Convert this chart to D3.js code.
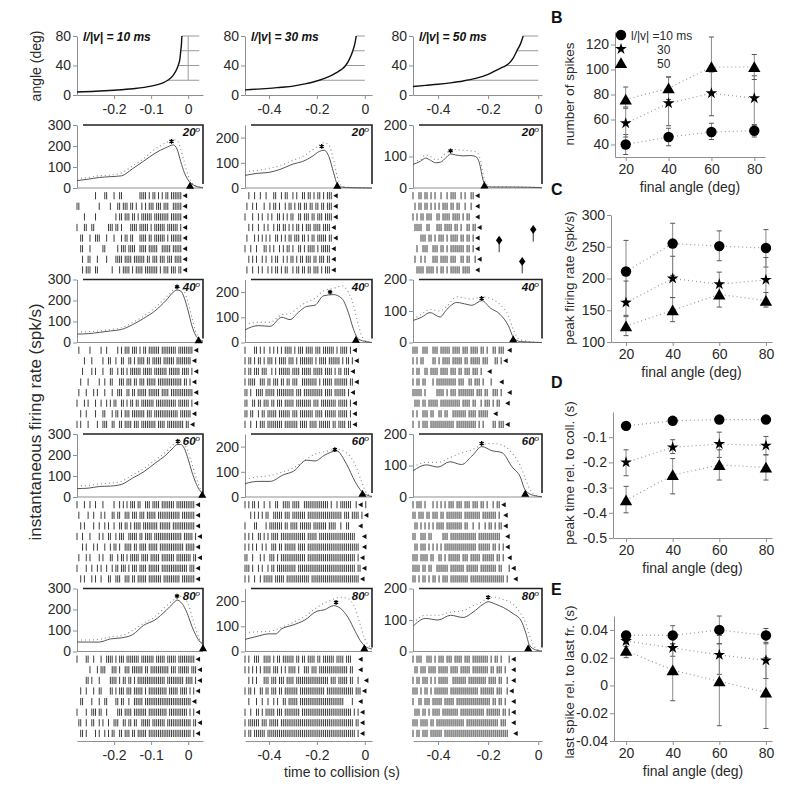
<!DOCTYPE html>
<html lang="en">
<head>
<meta charset="utf-8">
<title>Looming responses</title>
<script src="https://d3js.org/d3.v7.min.js"></script>
<style>
  body { margin: 0; background: #fff; }
  svg { font-family: "Liberation Sans", Arial, Helvetica, sans-serif; }
</style>
</head>
<body>
<script>
// ---------- panel A data ----------
const approachLabels = ["l/|v| = 10 ms", "l/|v| = 30 ms", "l/|v| = 50 ms"]
const finalAngles = [20, 40, 60, 80]
const timeDomains = [[-0.3, 0.04], [-0.5, 0.03], [-0.5, 0.015]]
const timeTicks = [[-0.2, -0.1, 0], [-0.4, -0.2, 0], [-0.4, -0.2, 0]]
const angleTicks = [0, 40, 80]
const rateDomains = [[0, 300], [0, 250], [0, 200]]
const rateTicks = [[0, 100, 200, 300], [0, 100, 200], [0, 100, 200]]

// stimulus angle vs time
const angle10 = [[-0.3,4],[-0.25,5],[-0.2,6.5],[-0.15,8.5],[-0.1,12],[-0.07,16],[-0.055,20],[-0.04,27],[-0.03,36],[-0.027,40],[-0.022,50],[-0.02,60],[-0.018,70],[-0.017,80]]
const angle30 = [[-0.5,7],[-0.45,8],[-0.4,9],[-0.35,10.5],[-0.3,12],[-0.25,15],[-0.19,20],[-0.15,25],[-0.12,30],[-0.1,34],[-0.08,40],[-0.065,48],[-0.05,60],[-0.04,72],[-0.036,80]]
const angle50 = [[-0.5,11.5],[-0.45,13],[-0.4,14.5],[-0.35,16.5],[-0.3,19],[-0.25,22.5],[-0.2,28],[-0.17,33],[-0.14,38],[-0.12,42],[-0.1,50],[-0.085,60],[-0.07,70],[-0.06,80]]
// [final angle, start, end] of the held angle
const hold10 = [[20,-0.055,0.03],[40,-0.027,0.03],[60,-0.02,0.03],[80,-0.017,0.03]]
const hold30 = [[20,-0.19,0],[40,-0.08,0],[60,-0.05,0],[80,-0.036,0]]
const hold50 = [[20,-0.29,0],[40,-0.13,0],[60,-0.085,0],[80,-0.06,0]]
const stimEnd10 = [0, 20, 80]

// firing rates [t, spk/s]: solid = mean, dotted = second estimate
const mean10_20 = [[-0.3,35],[-0.27,42],[-0.24,50],[-0.21,54],[-0.18,58],[-0.15,92],[-0.12,128],[-0.09,165],[-0.06,192],[-0.04,205],[-0.03,185],[-0.02,125],[-0.01,72],[0,38],[0.01,19],[0.02,9],[0.03,4],[0.04,2]]
const dot10_20 = [[-0.3,45],[-0.27,50],[-0.24,58],[-0.21,62],[-0.18,72],[-0.15,105],[-0.12,140],[-0.09,185],[-0.06,215],[-0.04,230],[-0.03,226],[-0.02,185],[-0.01,120],[0,60],[0.01,25],[0.02,10],[0.03,4],[0.04,2]]
const mean10_40 = [[-0.3,40],[-0.27,42],[-0.24,48],[-0.21,55],[-0.18,62],[-0.15,85],[-0.12,115],[-0.09,150],[-0.06,200],[-0.04,240],[-0.03,250],[-0.02,245],[-0.01,210],[0,150],[0.01,80],[0.02,35],[0.03,15],[0.04,5]]
const dot10_40 = [[-0.3,50],[-0.27,52],[-0.24,55],[-0.21,62],[-0.18,70],[-0.15,95],[-0.12,125],[-0.09,165],[-0.06,215],[-0.04,250],[-0.03,262],[-0.02,262],[-0.01,240],[0,190],[0.01,120],[0.02,55],[0.03,20],[0.04,8]]
const mean10_60 = [[-0.3,40],[-0.27,42],[-0.24,50],[-0.21,52],[-0.18,60],[-0.15,90],[-0.12,120],[-0.09,160],[-0.06,200],[-0.04,235],[-0.03,250],[-0.02,250],[-0.01,230],[0,180],[0.01,120],[0.02,70],[0.03,35],[0.04,15]]
const dot10_60 = [[-0.3,52],[-0.27,55],[-0.24,62],[-0.21,66],[-0.18,75],[-0.15,105],[-0.12,135],[-0.09,175],[-0.06,215],[-0.04,250],[-0.03,262],[-0.02,265],[-0.01,250],[0,215],[0.01,160],[0.02,100],[0.03,50],[0.04,20]]
const mean10_80 = [[-0.3,45],[-0.27,45],[-0.24,45],[-0.21,60],[-0.18,65],[-0.15,80],[-0.12,125],[-0.09,150],[-0.06,195],[-0.04,230],[-0.03,245],[-0.02,235],[-0.01,210],[0,170],[0.01,120],[0.02,80],[0.03,50],[0.04,35]]
const dot10_80 = [[-0.3,55],[-0.27,55],[-0.24,58],[-0.21,70],[-0.18,75],[-0.15,100],[-0.12,135],[-0.09,165],[-0.06,215],[-0.04,245],[-0.03,255],[-0.02,262],[-0.01,255],[0,225],[0.01,170],[0.02,110],[0.03,60],[0.04,35]]

const mean30_20 = [[-0.5,50],[-0.45,58],[-0.4,62],[-0.35,75],[-0.3,95],[-0.26,105],[-0.22,125],[-0.19,145],[-0.17,150],[-0.15,125],[-0.13,60],[-0.115,15],[-0.1,4],[-0.05,1],[0.03,0]]
const dot30_20 = [[-0.5,65],[-0.45,70],[-0.4,78],[-0.35,90],[-0.3,110],[-0.26,125],[-0.22,150],[-0.19,170],[-0.17,180],[-0.15,170],[-0.13,110],[-0.115,45],[-0.1,12],[-0.08,3],[0.03,0]]
const mean30_40 = [[-0.5,50],[-0.445,67],[-0.395,64],[-0.347,100],[-0.312,91],[-0.277,120],[-0.243,143],[-0.208,148],[-0.173,185],[-0.131,190],[-0.096,175],[-0.069,120],[-0.048,55],[-0.027,14],[0.008,3],[0.03,0]]
const dot30_40 = [[-0.5,70],[-0.445,80],[-0.395,80],[-0.347,110],[-0.312,115],[-0.277,140],[-0.243,160],[-0.208,175],[-0.173,205],[-0.131,215],[-0.096,225],[-0.069,200],[-0.048,150],[-0.027,70],[-0.01,20],[0.008,5],[0.03,0]]
const mean30_60 = [[-0.5,53],[-0.445,62],[-0.395,62],[-0.34,88],[-0.298,102],[-0.243,146],[-0.208,143],[-0.166,167],[-0.118,183],[-0.076,130],[-0.041,62],[-0.013,22],[0.008,8],[0.03,2]]
const dot30_60 = [[-0.5,70],[-0.445,80],[-0.395,85],[-0.34,100],[-0.298,115],[-0.243,150],[-0.208,170],[-0.166,180],[-0.118,190],[-0.076,175],[-0.041,130],[-0.013,60],[0.008,15],[0.03,3]]
const mean30_80 = [[-0.5,48],[-0.45,60],[-0.4,70],[-0.37,70],[-0.35,88],[-0.3,105],[-0.25,125],[-0.2,160],[-0.17,165],[-0.13,182],[-0.1,170],[-0.07,135],[-0.04,80],[-0.02,45],[0,22],[0.02,12],[0.03,10]]
const dot30_80 = [[-0.5,75],[-0.45,78],[-0.4,80],[-0.35,95],[-0.3,115],[-0.25,140],[-0.2,175],[-0.15,200],[-0.1,215],[-0.07,210],[-0.04,170],[-0.02,110],[0,50],[0.02,20],[0.03,12]]

const mean50_20 = [[-0.5,75],[-0.47,85],[-0.45,95],[-0.43,88],[-0.41,80],[-0.39,82],[-0.37,95],[-0.35,108],[-0.33,105],[-0.3,102],[-0.27,103],[-0.25,100],[-0.235,80],[-0.22,25],[-0.21,8],[-0.19,3],[-0.1,3],[0.015,1]]
const dot50_20 = [[-0.5,85],[-0.47,90],[-0.45,105],[-0.43,100],[-0.41,90],[-0.39,95],[-0.37,110],[-0.35,118],[-0.33,122],[-0.3,120],[-0.27,118],[-0.25,115],[-0.235,100],[-0.22,45],[-0.21,15],[-0.19,5],[-0.1,4],[0.015,2]]
const mean50_40 = [[-0.5,70],[-0.466,80],[-0.432,95],[-0.392,81],[-0.365,105],[-0.325,127],[-0.285,121],[-0.265,118],[-0.225,133],[-0.192,110],[-0.152,89],[-0.119,53],[-0.099,16],[-0.072,3],[0.015,0]]
const dot50_40 = [[-0.5,75],[-0.466,90],[-0.432,105],[-0.392,100],[-0.365,115],[-0.325,145],[-0.285,140],[-0.265,138],[-0.225,145],[-0.192,140],[-0.152,120],[-0.119,85],[-0.099,40],[-0.072,8],[0.015,0]]
const mean50_60 = [[-0.5,83],[-0.447,102],[-0.4,95],[-0.353,112],[-0.306,103],[-0.265,130],[-0.225,160],[-0.185,147],[-0.145,141],[-0.105,96],[-0.072,64],[-0.052,22],[-0.019,5],[0.015,1]]
const dot50_60 = [[-0.5,95],[-0.447,110],[-0.4,110],[-0.353,125],[-0.306,140],[-0.265,150],[-0.225,165],[-0.185,170],[-0.145,165],[-0.105,140],[-0.072,100],[-0.052,60],[-0.03,20],[-0.01,5],[0.015,1]]
const mean50_80 = [[-0.5,80],[-0.45,105],[-0.4,100],[-0.35,115],[-0.3,108],[-0.26,125],[-0.22,150],[-0.2,158],[-0.17,150],[-0.14,140],[-0.1,120],[-0.07,100],[-0.05,60],[-0.035,20],[-0.01,5],[0.015,1]]
const dot50_80 = [[-0.5,90],[-0.45,115],[-0.4,115],[-0.35,125],[-0.3,130],[-0.26,145],[-0.22,160],[-0.2,170],[-0.17,172],[-0.14,165],[-0.1,150],[-0.07,120],[-0.05,90],[-0.03,40],[-0.01,10],[0.015,2]]

// peak (*) and end-of-response (triangle) markers [t, spk/s]
const peak10 = [[-0.045,222],[-0.03,265],[-0.028,265],[-0.03,264]]
const peak30 = [[-0.18,165],[-0.145,200],[-0.125,188],[-0.12,195]]
const peak50 = [[-0.35,118],[-0.226,140],[-0.226,170],[-0.2,172]]
const endTri10 = [[0.005,8],[0.028,8],[0.038,8],[0.04,12]]
const endTri30 = [[-0.115,6],[-0.037,8],[-0.01,10],[-0.002,10]]
const endTri50 = [[-0.215,6],[-0.1,8],[-0.052,8],[-0.04,8]]

// spike rasters: one string per trial, one character per time bin,
// '|' spike, '<' end marker; spaces only group the bins by ten
const rasterStart = [-0.3, -0.5, -0.5]
const rasterBin = [0.005, 0.008, 0.008]
const raster10_20 = [
  ".......... |....||... |..||..... ....||||.| .||.|.|.|| .||||||<",
  "||........ ..|.....|. ..||.|||.| |.|..|.|.| ||.|||.||| ..|||||<",
  "....|..... |......... .|.||.|||. ||.|.||||| |.|||||||| .||||||<",
  "|...||..|| .......||| .||.|....| |||.|||||. |.||||||.| |||||.|<",
  "..||...|.. |||...|... |...|.||.| |...||||.| |.||||||.| .||||||<",
  "..||...|.. ....||.... ..|.|||.|| ||..||||.| ||||..|||| |.|||||<",
  "...|..||.. .|....|... .||||.|||| .||||||.|| .|||.|||.| ||.||||<",
  "...|.|||.. ||.......| ...|.||||. |.||||.||| ||||.|.||| .|||.||<"]
const raster10_40 = [
  ".|.....|.. ...|..|... ..|.|.|||. |||.|.||.| |||||.|||| ||||.||||| |||<",
  "....|...|. ....|..||. .|..||..|| .|.||||.|| .|||||.||| |||.|||||| ||<",
  "...|....|. |...|...|| ..|.||.|.| |||||.|||| |.|||||||. ||||||.||| |.|<",
  "..|...|... ..|..|..|| ...|||.||| .||.|||.|| |||.|||||| |||||||.|| .|<",
  ".|...|...| .|...|...| ..|||..||. ||.|||||.| |||||.|||| .||||||||| |||<",
  "|...|.|... |..|..|.|. ||..||.|.| |.||.||||| ||.||||||| ||||.||||| |.|<",
  "..|..|.... |...||...| .||.|.|||. |||||||.|| |.|||||||| |||||.|||| ||<",
  "|.|...|... .|..|||..| |..||.|||| .|||.||||| |||.||||.| ||||||||.| |<"]
const raster10_60 = [
  "|...|..|.. |...|..... |..|.|.|.| ||.||..||| .||||.|||| |||.|||||| ||||<",
  ".|....|..| ...|.|...| |.||..|||. |||.|||.|| |||.|||||| ||||||.||| ||||<",
  "..|.|....| ..|..|.|.. |..||.||.| .||||.|||| ||||.||||| |.|||||||| ||||<",
  "|..|...|.. ..|.|..||. .|.|||..|| |||.||.||| |.|||||||| |||||||.|| |||.|<",
  "...|.|...| .|...|..|. ||.|..|||| .||.||||.| ||||.||||| ||||||||.| ||||<",
  ".|...|.|.. ..|.|...|| ..|.||.|.| ||||.||||. |||||.|||| |||.|||||| ||.||<",
  "|....|..|. .|.|..|..| .||.|||.|. |||.||||.| |||||.|||| |||||||||| .|||<",
  "..|.|...|. |..|...||. .|||..|||. ||.|||||.| ||||||.||| ||||||.||| ||||<"]
const raster10_80 = [
  "|....||..| ...|..|||| .|.|||.||| ||||.||||| ||.|||||.| ||||.||||| ||||<",
  ".......|.. .|.|||...| ||.|..|||. ||||||.||. |||||||||| .|||.||||| |.|||<",
  ".....||.|. ..|.....|| ||.|.||.|| .|.||||||| ||||||||.| ||||||||.| |||.|<",
  "..|..|...| ..||....|| .|.|||.||| .|||||.|.| |||||||||. |||||.|||| .|.|<",
  "..||....|. ..|..||... .||.||..|. .|||||.||| |||||||||| |||||||||| ||<",
  "|....|..|| |.||..|... ..|||.|||| .|||||||.| |||||||||. |||||||||| .|.|<",
  ".||..|..|| ..|.|..|.. |||..||.|| .||..||||| .|||||||.| |||||||||| ||.||<",
  "..||.|.... |.|..|.|.| |..||.|||. ||.|||||.| |||||||||| |||||||||| ||.|<"]
const raster30_20 = [
  "..|..|..|. .|...||..| .||..|.|.. ||.||.|.|| .|.|||<",
  ".|..|.|... |..|.||.|. .|.||.|.|| .||.||.||. ||.|||<",
  "|...|..|.| ..|.|..||. |.|.||..|| .|||.||.|| |.||||<",
  "..|.|..|.. |.|..|.||. ||.|.|.||. |.|||.|||| .||||<",
  ".|...|.|.| .|.|..||.| .|.||.|||. ||.|.||.|| |||.||<",
  "|..|..|... ||.|.|..|. |.||.|..|| .|.||||.|. |||||<",
  "..|.|.|..| .|..|.||.. |.|.||.|.| |.|||.||.| ||.||<",
  ".|..|..|.| ..|.|.||.| .||..|.||. ||.||.|||. |.|||<"]
const raster30_40 = [
  "|....||.|. |..|.|.|.| .||||.|.|| |.||||.||| .||||||.|. ||||.|<",
  "|.||.|.||. |.|||.|.|| ||.|||.|.| ||||||.|.| |||.|||||| .|.||.|<",
  "|.||.|||.| ||..|.|.|| ||||.||||. |||||.|||| |.||||.|.| |.|||<",
  "|.||||..|| |.||.|||.| |.||.|||.. ||||||||.| .|||||.||| ||||.||<",
  "||.|..|||| .|||||.||| ||||||.||| .||||||||| |.||||.||| |||.|<",
  "||..||.||. |||.||.||| .|||||.||| |||||.|||. ||||||||.| ||||.|<",
  "||.||..|.| |.|||||.|| ||||.|||.| ||||||.||| |.||||||.| ||||.|<",
  "|..|..|.|| |.|||||||| .|||||||.| |||.||||.| |||||.||.| |||.||<"]
const raster30_60 = [
  "|.|.||.|.. |..|..||.. ||||.||||. .||||||||| ||||.|..|. ||||||..|< ...|",
  "...|.|.|.| .||..||||| .|||.||||| ||.||||||| |||||||||| |.|||.|||| .|<",
  "|....||... .|.||||||| .||.||||.| |||||.|||| |||.||||.. |..||....<",
  "|.|.|..||. |.|.||||.| |||||||||| ||.|||||.| |||||||||| ||||||||.. .<",
  "|.|.|.|..| .|..|||.|| .||||||.|| ||.||||||| |||||||||| |||||||||| .<",
  "||..|...|. |..|||.|.| |||||||||| ||.||||||| |||||||||| ||||||||.| <",
  "|||.|..|.| ..|.||.||| |||||||.|| |||||||||| |||||||||| ||||||||.| |<",
  "|.|..|..|. |||||.|||| |.|||||||| ||||.||||| |||||||||| |||||||||| <"]
const raster30_80 = [
  "|.|..|||.. ||||.|.||. ||||||.||. ||.||||.|| .||||||.|| ||.|||...<",
  "|.|.|.|.|. ||||.|||.| .|.||||.|. .|||.|||.| |||||||||| ||||.||..<",
  "..|.|.|... |||.|||.|| |.||||.||| |||||||||| ||||.|||.| ||||.||..| ..<",
  "|.||.|..|| .||.|||.|| .|||||||.| |||||||||| ||.||||||| |||||||.|| |<",
  "..|...|..| ..|..|.|.. ||.|||||.| |||||||||| |||||||||| ||....|..<",
  "|..|..||.| .|||||.||| .||||||||. |||||||||| |||||||||| ||||||.|.| <",
  "|.||||||.| ||.|||||.| |||||||||| |||||||||| |||||||||| |||||||.|| <",
  "|.||.||||| |.|||||||| |||||||||| |||||||||| |||||||||| ||||||||.| <"]
const raster50_20 = [
  "|..||.||.| .|..|..|.| ||..|.|..| |<",
  ".|.||.||.| .|.|.|||.| |.||..|..| .<",
  "|.|.||.||| ..||.||||. ||||.|.||. .<",
  ".||||..||. ..|||.|||| .||.|..||. ||<",
  "....|||.|| .|.|||.|.| |||.||.||. |<",
  "..|..|||.. |||.||.|.| ||||||.||. |<",
  ".|..|.|... |||.||||.| ||..||.||. .|<",
  "..||||.||| |.|.||.|.| ||||.||||. .<"]
const raster50_40 = [
  "|||..|||.. |||.|||||. ||||.|||.| |||.||.|.. ||.|||.<",
  "|.|.||.... ||.|.||||. |||||.||.| ||||.|||.. .||.|<",
  "|.||..||.| |||.||||.| ||.||.|||. |||.|..<",
  "|.||.||... |.|||||||| ||.|||..|| .|||.|...| ...<",
  "|||||.|... ..||||.|.| ||.||||||| |.|||.||.. |||.|..<",
  ".|||.||.|| |||.|||||| ||||.||||. ||..|.|||. |.||..<",
  "|.|..|||.| |..||.||.. |||||||.|| ||.|||||.. <",
  "|..|.|||.| |||||||||| |.|||||||| ||.|.|.... ||.|||<"]
const raster50_60 = [
  "|.|||.|... |.|.|.|.|| |.|||.|||. |||.||.|.. |.||<",
  "||.|||.||. |||.||.||| |||||.|||| ||||.||||| ||.|.<",
  ".||.|.|.|. |.||||.||| |||||.||.. |..|..|.|| .|.||<",
  "||..|||.|| .....|||.| |||||||||| ||.||||||| ||||..<",
  ".||.|||.|. |.|.|.|||| |||||||||| ||.||||||. ||.|.|<",
  "|||.||||.| |..||.|.|| ||||.|||.| ||||.||||| |.||.|.<",
  "||||.||.|| ..||||||.| ||||||.||| |||.|||||| ||.||...|<",
  "||.|.||.|. ||.|.|||.| ||||||||.| |||||||||| ||||||.|..<"]
const raster50_80 = [
  "|.|||..||| .|.|||.||| .||||.|||. ||||||||.| .||.|...|<",
  ".||.|||.|| ||.|||||.| |||.|||||. ||||||||.| |.|||.|..<",
  "|.||.|||.| .|.|||||.. |||||||.|| |||||||.|| ||.||..|.<",
  "|||.|.||.| .|||||||.| |||||||||| |||.|||||| |.|||..|<",
  "|..||.|||. |||||.|||| |.|||||||| |||||||||. ||.||.|..<",
  ".|||.||.|. ||||.||||| |||.|||||| ||||||.||| ||||.||.|<",
  "|||.||||.| |.|||||||| ||||||.||| |||||||||| |||.|||..<",
  "|.||.|||.| |||||.|||| |||||||||| |||||||||| ||||||||..<"]
// extra events in the l/|v| = 50 ms, 20 deg raster [t, trial]
const diamonds50_20 = [[-0.156, 4.2], [-0.064, 6.2], [-0.02, 3.2]]

// ---------- panels B-E data ----------
const summaryAngles = [20, 40, 60, 80]
const summaryTicksX = [20, 40, 60, 80]
const legendLabels = ["l/|v| =10 ms", "30", "50"]

const spikes10 = [40, 46, 50, 51], spikes10Lo = [32, 39, 44, 46], spikes10Hi = [48, 53, 57, 56]
const spikes30 = [57, 73, 81, 77], spikes30Lo = [46, 55, 63, 55], spikes30Hi = [69, 94, 98, 95]
const spikes50 = [76, 85, 102, 102], spikes50Lo = [70, 76, 80, 92], spikes50Hi = [86, 94, 126, 112]

const rate10 = [211, 255, 251, 248], rate10Lo = [165, 205, 228, 218], rate10Hi = [260, 287, 275, 277]
const rate30 = [162, 200, 191, 198], rate30Lo = [140, 170, 170, 165], rate30Hi = [196, 235, 210, 233]
const rate50 = [125, 150, 175, 165], rate50Lo = [110, 132, 155, 155], rate50Hi = [142, 170, 190, 178]

const ptime10 = [-0.055, -0.035, -0.03, -0.03], ptime10Lo = [-0.063, -0.042, -0.036, -0.036], ptime10Hi = [-0.047, -0.028, -0.024, -0.024]
const ptime30 = [-0.2, -0.14, -0.127, -0.133], ptime30Lo = [-0.253, -0.165, -0.18, -0.17], ptime30Hi = [-0.15, -0.11, -0.08, -0.097]
const ptime50 = [-0.35, -0.25, -0.21, -0.22], ptime50Lo = [-0.4, -0.325, -0.27, -0.27], ptime50Hi = [-0.295, -0.185, -0.15, -0.17]

const last10 = [0.036, 0.036, 0.040, 0.036], last10Lo = [0.033, 0.03, 0.03, 0.031], last10Hi = [0.039, 0.043, 0.05, 0.041]
const last30 = [0.032, 0.027, 0.022, 0.018], last30Lo = [0.028, 0.021, 0.008, 0.005], last30Hi = [0.036, 0.034, 0.036, 0.03]
const last50 = [0.025, 0.011, 0.003, -0.005], last50Lo = [0.02, -0.011, -0.029, -0.031], last50Hi = [0.03, 0.03, 0.03, 0.02]

// ---------- drawing ----------
const width = 800, height = 795
const axisGray = "#8f8f8f", textCol = "#2a2a2a"

const svg = d3.select("body").append("svg")
  .attr("width", width).attr("height", height)

let colRange = [[77, 203], [245, 372], [413, 542]]
let xScales = colRange.map((r, i) => d3.scaleLinear().domain(timeDomains[i]).range(r))

let styleAxis = (g, size) => {
  g.selectAll(".domain").attr("stroke", axisGray)
  g.selectAll(".tick line").attr("stroke", axisGray)
  g.selectAll(".tick text").attr("fill", textCol).attr("font-size", size || 13)
    .attr("font-family", "Liberation Sans, Arial, sans-serif")
}

// --- top row: stimulus angle ---
let angleCurves = [angle10, angle30, angle50]
let holds = [hold10, hold30, hold50]
let yAngle = d3.scaleLinear().domain([0, 80]).range([95, 36])

angleCurves.forEach((curve, c) => {
  let x = xScales[c]
  let g = svg.append("g")
  g.append("g").attr("transform", "translate(0,95)")
    .call(d3.axisBottom(x).tickValues(timeTicks[c]).tickFormat(d => d).tickSize(4).tickSizeOuter(0).tickPadding(5))
    .call(a => styleAxis(a, 14))
  g.append("g").attr("transform", `translate(${colRange[c][0]},0)`)
    .call(d3.axisLeft(yAngle).tickValues(angleTicks).tickSize(4).tickSizeOuter(0).tickPadding(2))
    .call(a => styleAxis(a, 14))

  g.selectAll(".hold").data(holds[c]).join("line")
    .attr("x1", d => x(d[1])).attr("x2", d => x(d[2]))
    .attr("y1", d => yAngle(d[0])).attr("y2", d => yAngle(d[0]))
    .attr("stroke", "#9a9a9a").attr("stroke-width", 1)
  if (c === 0) {
    g.append("line")
      .attr("x1", x(stimEnd10[0])).attr("x2", x(stimEnd10[0]))
      .attr("y1", yAngle(stimEnd10[1])).attr("y2", yAngle(stimEnd10[2]))
      .attr("stroke", "#9a9a9a")
  }
  g.append("path").datum(curve)
    .attr("d", d3.line().x(d => x(d[0])).y(d => yAngle(d[1])).curve(d3.curveMonotoneX))
    .attr("fill", "none").attr("stroke", "#111").attr("stroke-width", 1.4)

  g.append("text").attr("x", colRange[c][0] + 6).attr("y", 41)
    .attr("font-size", 12).attr("font-weight", "bold").attr("font-style", "italic")
    .attr("fill", "#111").text(approachLabels[c])
})

// --- rate panels and rasters ---
let means = [[mean10_20, mean10_40, mean10_60, mean10_80], [mean30_20, mean30_40, mean30_60, mean30_80], [mean50_20, mean50_40, mean50_60, mean50_80]]
let dots = [[dot10_20, dot10_40, dot10_60, dot10_80], [dot30_20, dot30_40, dot30_60, dot30_80], [dot50_20, dot50_40, dot50_60, dot50_80]]
let peaks = [peak10, peak30, peak50]
let endTris = [endTri10, endTri30, endTri50]
let rasters = [[raster10_20, raster10_40, raster10_60, raster10_80], [raster30_20, raster30_40, raster30_60, raster30_80], [raster50_20, raster50_40, raster50_60, raster50_80]]

const panelTop0 = 125, rowStep = 154.5, panelH = 63, trialStep = 10.6

for (let c = 0; c < 3; c++) {
  let x = xScales[c]
  let [x0, x1] = colRange[c]
  for (let r = 0; r < 4; r++) {
    let top = panelTop0 + r * rowStep
    let bottom = top + panelH
    let y = d3.scaleLinear().domain(rateDomains[c]).range([bottom, top])
    let g = svg.append("g")

    g.append("g").attr("transform", `translate(${x0},0)`)
      .call(d3.axisLeft(y).tickValues(rateTicks[c]).tickSize(4).tickSizeOuter(0).tickPadding(2))
      .call(a => styleAxis(a, 14))
    g.append("line").attr("x1", x0).attr("x2", x1).attr("y1", bottom).attr("y2", bottom)
      .attr("stroke", axisGray)
    // frame
    g.append("path").attr("d", `M${x0 + 6},${top}H${x1}V${bottom - 4}`)
      .attr("fill", "none").attr("stroke", "#222").attr("stroke-width", 1.6)

    let lineGen = d3.line().x(d => x(d[0])).y(d => y(d[1])).curve(d3.curveMonotoneX)
    g.append("path").datum(dots[c][r]).attr("d", lineGen)
      .attr("fill", "none").attr("stroke", "#8a8a8a").attr("stroke-width", 1.1)
      .attr("stroke-dasharray", "1,3")
    g.append("path").datum(means[c][r]).attr("d", lineGen)
      .attr("fill", "none").attr("stroke", "#555").attr("stroke-width", 1)

    let pk = peaks[c][r]
    g.append("path").attr("d", d3.symbol(d3.symbolAsterisk, 16)())
      .attr("transform", `translate(${x(pk[0])},${y(pk[1])})`)
      .attr("stroke", "#000").attr("stroke-width", 1.3).attr("fill", "none")
    let et = endTris[c][r]
    g.append("path").attr("d", d3.symbol(d3.symbolTriangle, 28)())
      .attr("transform", `translate(${x(et[0])},${y(et[1])})`)
      .attr("fill", "#000")

    let lab = g.append("text").attr("x", x1 - 3).attr("y", top + 11)
      .attr("text-anchor", "end").attr("font-size", 11.5)
      .attr("font-weight", "bold").attr("font-style", "italic").attr("fill", "#111")
    lab.append("tspan").text(finalAngles[r])
    lab.append("tspan").attr("dy", -4).attr("font-size", 8).attr("font-weight", "normal").text("o")

    // raster
    let spikes = [], ends = []
    rasters[c][r].forEach((s, k) => {
      s.replace(/ /g, "").split("").forEach((ch, i) => {
        let t = rasterStart[c] + i * rasterBin[c]
        if (ch === "|") spikes.push({ t: t, k: k })
        if (ch === "<") ends.push({ t: t, k: k })
      })
    })
    let yTrial = k => bottom + 7.7 + k * trialStep
    g.selectAll(".spk").data(spikes).join("line")
      .attr("x1", d => x(d.t)).attr("x2", d => x(d.t))
      .attr("y1", d => yTrial(d.k) - 3.6).attr("y2", d => yTrial(d.k) + 3.6)
      .attr("stroke", "#1a1a1a").attr("stroke-opacity", 0.85).attr("stroke-width", 1)
    g.selectAll(".end").data(ends).join("path")
      .attr("d", d => `M${x(d.t)},${yTrial(d.k)}l4.5,-2.5v5z`)
      .attr("fill", "#111")

    if (c === 2 && r === 0) {
      g.selectAll(".dia").data(diamonds50_20).join("g")
        .attr("transform", d => `translate(${x(d[0])},${yTrial(d[1])})`)
        .each(function () {
          let dg = d3.select(this)
          dg.append("line").attr("y1", 0).attr("y2", 12).attr("stroke", "#333")
          dg.append("path").attr("d", "M0,-4.5L3.2,0L0,4.5L-3.2,0Z").attr("fill", "#000")
        })
    }
  }
  // bottom time axis
  svg.append("g").attr("transform", "translate(0,741)")
    .call(d3.axisBottom(x).tickValues(timeTicks[c]).tickFormat(d => d).tickSize(4).tickSizeOuter(0).tickPadding(5))
    .call(a => styleAxis(a, 14))
}

svg.append("text").attr("x", 342).attr("y", 777).attr("text-anchor", "middle")
  .attr("font-size", 14).attr("fill", textCol).text("time to collision (s)")
svg.append("text").attr("transform", "translate(41,66) rotate(-90)").attr("text-anchor", "middle")
  .attr("font-size", 14).attr("fill", textCol).text("angle (deg)")
svg.append("text").attr("transform", "translate(41,422) rotate(-90)").attr("text-anchor", "middle")
  .attr("font-size", 17).attr("fill", textCol).text("instantaneous firing rate (spk/s)")

// --- summary panels ---
let shapes = [d3.symbolCircle, d3.symbolStar, d3.symbolTriangle]
let shapeSize = [85, 42, 66]

let summaries = [
  { letter: "B", ly: 23, xr: [615, 765], xd: [15, 85], yr: [157, 32], yd: [30, 130], yt: [40, 60, 80, 100, 120],
    vals: [spikes10, spikes30, spikes50], lo: [spikes10Lo, spikes30Lo, spikes50Lo], hi: [spikes10Hi, spikes30Hi, spikes50Hi],
    ylab: "number of spikes", yc: 94 },
  { letter: "C", ly: 195, xr: [611, 772], xd: [13.57, 82.6], yr: [342, 215], yd: [100, 300], yt: [100, 150, 200, 250, 300],
    vals: [rate10, rate30, rate50], lo: [rate10Lo, rate30Lo, rate50Lo], hi: [rate10Hi, rate30Hi, rate50Hi],
    ylab: "peak firing rate (spk/s)", yc: 278 },
  { letter: "D", ly: 388, xr: [613, 772], xd: [14.4, 82.6], yr: [538, 412], yd: [-0.5, 0], yt: [-0.5, -0.4, -0.3, -0.2, -0.1],
    vals: [ptime10, ptime30, ptime50], lo: [ptime10Lo, ptime30Lo, ptime50Lo], hi: [ptime10Hi, ptime30Hi, ptime50Hi],
    ylab: "peak time rel. to coll. (s)", yc: 473 },
  { letter: "E", ly: 595, xr: [614, 772], xd: [14.8, 82.6], yr: [741, 616], yd: [-0.04, 0.05], yt: [-0.04, -0.02, 0, 0.02, 0.04],
    vals: [last10, last30, last50], lo: [last10Lo, last30Lo, last50Lo], hi: [last10Hi, last30Hi, last50Hi],
    ylab: "last spike rel. to last fr. (s)", yc: 682 }
]

summaries.forEach(p => {
  let x = d3.scaleLinear().domain(p.xd).range(p.xr)
  let y = d3.scaleLinear().domain(p.yd).range(p.yr)
  let g = svg.append("g")
  g.append("g").attr("transform", `translate(0,${p.yr[0]})`)
    .call(d3.axisBottom(x).tickValues(summaryTicksX).tickSize(4).tickSizeOuter(0).tickPadding(3))
    .call(a => styleAxis(a, 14))
  g.append("g").attr("transform", `translate(${p.xr[0]},0)`)
    .call(d3.axisLeft(y).tickValues(p.yt).tickFormat(d => d).tickSize(4).tickSizeOuter(0).tickPadding(2))
    .call(a => styleAxis(a, 14))
  g.append("text").attr("x", (p.xr[0] + p.xr[1]) / 2).attr("y", p.yr[0] + 35)
    .attr("text-anchor", "middle").attr("font-size", 14).attr("fill", textCol).text("final angle (deg)")
  g.append("text").attr("transform", `translate(574,${p.yc}) rotate(-90)`)
    .attr("text-anchor", "middle").attr("font-size", 13.5).attr("fill", textCol).text(p.ylab)
  g.append("text").attr("x", 551).attr("y", p.ly).attr("font-size", 16)
    .attr("font-weight", "bold").attr("fill", "#111").text(p.letter)

  p.vals.forEach((v, s) => {
    let pts = summaryAngles.map((a, i) => ({ a: a, v: v[i], lo: p.lo[s][i], hi: p.hi[s][i] }))
    g.append("path").datum(pts)
      .attr("d", d3.line().x(d => x(d.a)).y(d => y(d.v)))
      .attr("fill", "none").attr("stroke", "#9a9a9a").attr("stroke-width", 1.2)
      .attr("stroke-dasharray", "1,3")
    let eb = g.append("g")
    eb.selectAll("line.v").data(pts).join("line")
      .attr("x1", d => x(d.a)).attr("x2", d => x(d.a))
      .attr("y1", d => y(d.lo)).attr("y2", d => y(d.hi))
      .attr("stroke", "#8a8a8a").attr("stroke-width", 1)
    eb.selectAll("line.cl").data(pts).join("line")
      .attr("x1", d => x(d.a) - 2.5).attr("x2", d => x(d.a) + 2.5)
      .attr("y1", d => y(d.lo)).attr("y2", d => y(d.lo)).attr("stroke", "#555")
    eb.selectAll("line.ch").data(pts).join("line")
      .attr("x1", d => x(d.a) - 2.5).attr("x2", d => x(d.a) + 2.5)
      .attr("y1", d => y(d.hi)).attr("y2", d => y(d.hi)).attr("stroke", "#555")
  })
  p.vals.forEach((v, s) => {
    g.selectAll(null).data(summaryAngles.map((a, i) => [a, v[i]])).join("path")
      .attr("d", d3.symbol(shapes[s], shapeSize[s])())
      .attr("transform", d => `translate(${x(d[0])},${y(d[1]) + (s === 2 ? 1.5 : 0)})`)
      .attr("fill", "#000")
  })
})

// legend inside B
legendLabels.forEach((t, i) => {
  svg.append("path").attr("d", d3.symbol(shapes[i], shapeSize[i])())
    .attr("transform", `translate(621,${35 + i * 14 + (i === 2 ? 1.5 : 0)})`).attr("fill", "#000")
  svg.append("text").attr("x", i === 0 ? 631 : 657).attr("y", 40 + i * 14)
    .attr("font-size", 12).attr("fill", textCol).text(t)
})
</script>
</body>
</html>
